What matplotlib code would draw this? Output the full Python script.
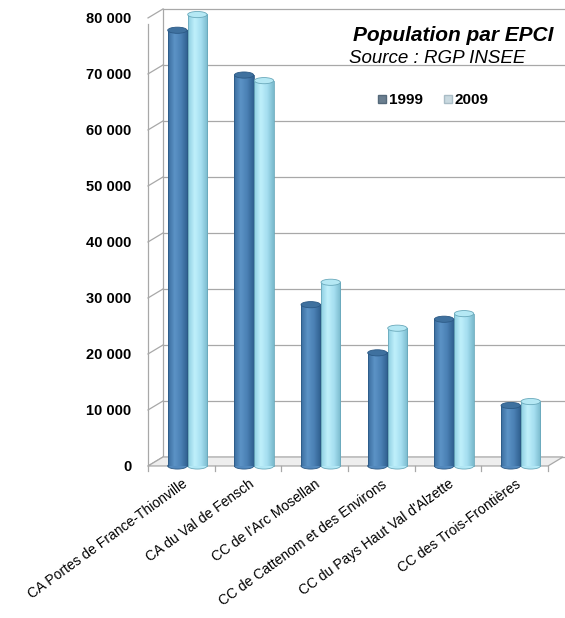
import numpy as np
import matplotlib
matplotlib.use("Agg")
import matplotlib.pyplot as plt
from matplotlib.patches import Ellipse, Polygon
from matplotlib.colors import LinearSegmentedColormap
from matplotlib.transforms import ScaledTranslation
from matplotlib.lines import Line2D

plt.rcParams['font.family'] = ['Liberation Sans', 'DejaVu Sans']

categories = ["CA Portes de France-Thionville", "CA du Val de Fensch",
              "CC de l'Arc Mosellan", "CC de Cattenom et des Environs",
              "CC du Pays Haut Val d'Alzette", "CC des Trois-Frontières"]
pop_1999 = [77800, 69800, 28800, 20200, 26200, 10800]
pop_2009 = [80600, 68800, 32800, 24600, 27200, 11500]
yticks = [0, 10000, 20000, 30000, 40000, 50000, 60000, 70000, 80000]
ytick_labels = ["0", "10 000", "20 000", "30 000", "40 000", "50 000",
                "60 000", "70 000", "80 000"]

fig = plt.figure(figsize=(5.65, 6.18), dpi=100, facecolor="white")
ax = fig.add_axes([0.262, 0.246, 0.708, 0.725])
ax.set_xlim(-0.5, 5.5)
ax.set_ylim(0, 80000)
for s in ax.spines.values():
    s.set_visible(False)

# 3d-ish back wall, shifted up/right
back = ax.transData + ScaledTranslation(15/100, 9/100, fig.dpi_scale_trans)
inv = ax.transData.inverted()
grid_c = "#a8a8a8"
for t in yticks:
    ax.plot([-0.5, 6.0], [t, t], color=grid_c, lw=0.9, transform=back, zorder=1, clip_on=False)
    # diagonal link on the left wall
    a = inv.transform(ax.transData.transform((-0.5, t)))
    b = inv.transform(back.transform((-0.5, t)))
    ax.plot([a[0], b[0]], [a[1], b[1]], color=grid_c, lw=0.9, zorder=1, clip_on=False)
ax.plot([-0.5, -0.5], [0, 80000], color=grid_c, lw=0.9, transform=back, zorder=1, clip_on=False)
ax.plot([-0.5, -0.5], [0, 79000], color=grid_c, lw=0.9, zorder=1, clip_on=False)

# floor
p_fl = ax.transData.transform((-0.5, 0)); p_fr = ax.transData.transform((5.5, 0))
p_bl = back.transform((-0.5, 0)); p_br = back.transform((5.5, 0))
floor = [inv.transform(p) for p in (p_fl, p_fr, p_br, p_bl)]
ax.add_patch(Polygon(floor, closed=True, facecolor="#eeeeee", edgecolor=grid_c,
                     lw=0.9, zorder=1, clip_on=False))
for i in range(7):
    ax.plot([i - 0.5, i - 0.5], [0, -900], color=grid_c, lw=0.9, clip_on=False, zorder=1)

cmap99 = LinearSegmentedColormap.from_list("c99", ["#3a6d9e", "#5c93c6", "#4a80b4", "#2f5f8e"])
cmap09 = LinearSegmentedColormap.from_list("c09", ["#8fcfe2", "#bff0fb", "#a5def0", "#79b9cc"])
grad = np.linspace(0, 1, 64).reshape(1, -1)
w = 0.29
cap_h = 1100
shift = 0.09

for i in range(len(categories)):
    for vals, off, cm, edge, top in ((pop_1999, -0.15, cmap99, "#2c5a86", "#3f719f"),
                                     (pop_2009, 0.15, cmap09, "#6aa9bb", "#b5e8f4")):
        v = vals[i]
        xc = i + off + shift
        x0 = xc - w / 2
        im = ax.imshow(grad, extent=[x0, x0 + w, 0, v], aspect="auto", cmap=cm,
                       zorder=3, interpolation="bilinear")
        im.set_clip_on(False)
        ax.plot([x0, x0], [0, v], color=edge, lw=0.6, zorder=4, clip_on=False)
        ax.plot([x0 + w, x0 + w], [0, v], color=edge, lw=0.6, zorder=4, clip_on=False)
        ax.add_patch(Ellipse((xc, 0), w, cap_h, facecolor=cm(0.5), edgecolor=edge,
                             lw=0.6, zorder=2.9, clip_on=False))
        ax.add_patch(Ellipse((xc, v), w, cap_h, facecolor=top, edgecolor=edge,
                             lw=0.6, zorder=5, clip_on=False))

ax.set_xlim(-0.5, 5.5)
ax.set_ylim(0, 80000)
ax.set_yticks(yticks)
ax.set_yticklabels(ytick_labels, fontsize=10.5, fontweight="bold")
ax.tick_params(axis="y", length=0, pad=12)
ax.set_xticks(range(len(categories)))
ax.set_xticklabels(categories, rotation=36, ha="right", rotation_mode="anchor",
                   fontsize=10)
ax.tick_params(axis="x", length=0, pad=8)

fig.text(0.979, 0.942, "Population par EPCI", ha="right", va="center",
         fontsize=15, fontweight="bold", fontstyle="italic")
fig.text(0.618, 0.906, "Source : RGP INSEE", ha="left", va="center",
         fontsize=13.5, fontstyle="italic")

handles = [Line2D([], [], marker="s", ls="", markersize=5.5, markerfacecolor="#6b7f90",
                  markeredgecolor="#55697a"),
           Line2D([], [], marker="s", ls="", markersize=5.5, markerfacecolor="#c9d9e0",
                  markeredgecolor="#a9bcc6")]
fig.legend(handles, ["1999", "2009"], loc="center", bbox_to_anchor=(0.765, 0.838),
           ncol=2, frameon=False, handletextpad=0.05, columnspacing=1.2,
           prop={"weight": "bold", "size": 11}, handlelength=0.8)

fig.savefig("out.png", dpi=100, facecolor="white")
